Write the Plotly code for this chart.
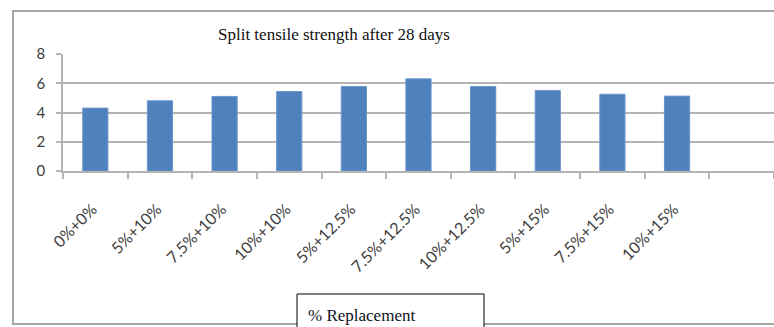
import plotly.graph_objects as go

# Split tensile strength (MPa) after 28 days for each replacement mix
mixes = ["0%+0%", "5%+10%", "7.5%+10%", "10%+10%", "5%+12.5%",
         "7.5%+12.5%", "10%+12.5%", "5%+15%", "7.5%+15%", "10%+15%"]
strength = [4.3, 4.8, 5.1, 5.43, 5.78, 6.3, 5.78, 5.5, 5.25, 5.12]
y_ticks = [0, 2, 4, 6, 8]

W, H = 774, 327
L, R, T, B = 63, 0, 54, 156
plot_w, plot_h = W - L - R, H - T - B


def px(x):
    return (x - L) / plot_w


def py(y):
    return (H - B - y) / plot_h


positions = list(range(len(mixes)))

fig = go.Figure(
    go.Bar(
        x=positions,
        y=strength,
        width=0.39,
        marker=dict(color="#4f81bd", line=dict(color="#6a96cc", width=1)),
        hoverinfo="skip",
    )
)

axis_grey = "#b4b4b4"
y_font = dict(family="Lato, Open Sans, sans-serif", size=15, color="#404040")
x_font = dict(family="Lato, Open Sans, sans-serif", size=16, color="#404040")

fig.update_xaxes(
    range=[-0.5, len(mixes) + 0.5],
    tickmode="array",
    tickvals=positions,
    ticktext=mixes,
    tickangle=-45,
    ticks="",
    ticklabelstandoff=21,
    ticklabelshift=-3,
    showgrid=False,
    zeroline=False,
    showline=True,
    linecolor=axis_grey,
    linewidth=1.5,
    tickfont=x_font,
    minor=dict(tick0=-0.5, dtick=1, ticks="outside", ticklen=6,
               tickcolor=axis_grey, tickwidth=1.5, showgrid=False),
    fixedrange=True,
)
fig.update_yaxes(
    range=[0, 8],
    tickvals=y_ticks,
    ticks="outside",
    ticklen=5,
    tickcolor=axis_grey,
    tickwidth=1.5,
    ticklabelstandoff=8,
    showgrid=True,
    gridcolor=axis_grey,
    gridwidth=1.5,
    zeroline=False,
    showline=True,
    linecolor=axis_grey,
    linewidth=1.5,
    tickfont=y_font,
    fixedrange=True,
)

serif = "Liberation Serif, Times New Roman, serif"

# chart frame, and the axis-title box that sits over its bottom edge
fig.add_shape(type="rect", xref="paper", yref="paper",
              x0=px(13), x1=px(790), y0=py(324), y1=py(11),
              line=dict(color="#a6a6a6", width=2), fillcolor="rgba(0,0,0,0)")
fig.add_shape(type="rect", xref="paper", yref="paper",
              x0=px(297), x1=px(484), y0=py(345), y1=py(294),
              line=dict(color="#000000", width=1), fillcolor="#ffffff")

fig.add_annotation(text="Split tensile strength after 28 days",
                   xref="paper", yref="paper", x=px(334), y=py(35),
                   showarrow=False, xanchor="center", yanchor="middle",
                   font=dict(family=serif, size=17, color="#111111"))
fig.add_annotation(text="% Replacement",
                   xref="paper", yref="paper", x=px(306), y=py(315),
                   showarrow=False, xanchor="left", yanchor="middle",
                   font=dict(family=serif, size=17, color="#111122"))

fig.update_layout(
    width=W, height=H,
    margin=dict(l=L, r=R, t=T, b=B),
    paper_bgcolor="white",
    plot_bgcolor="white",
    showlegend=False,
    bargap=0.61,
)

fig.write_html("out.html", config={"displayModeBar": False})
